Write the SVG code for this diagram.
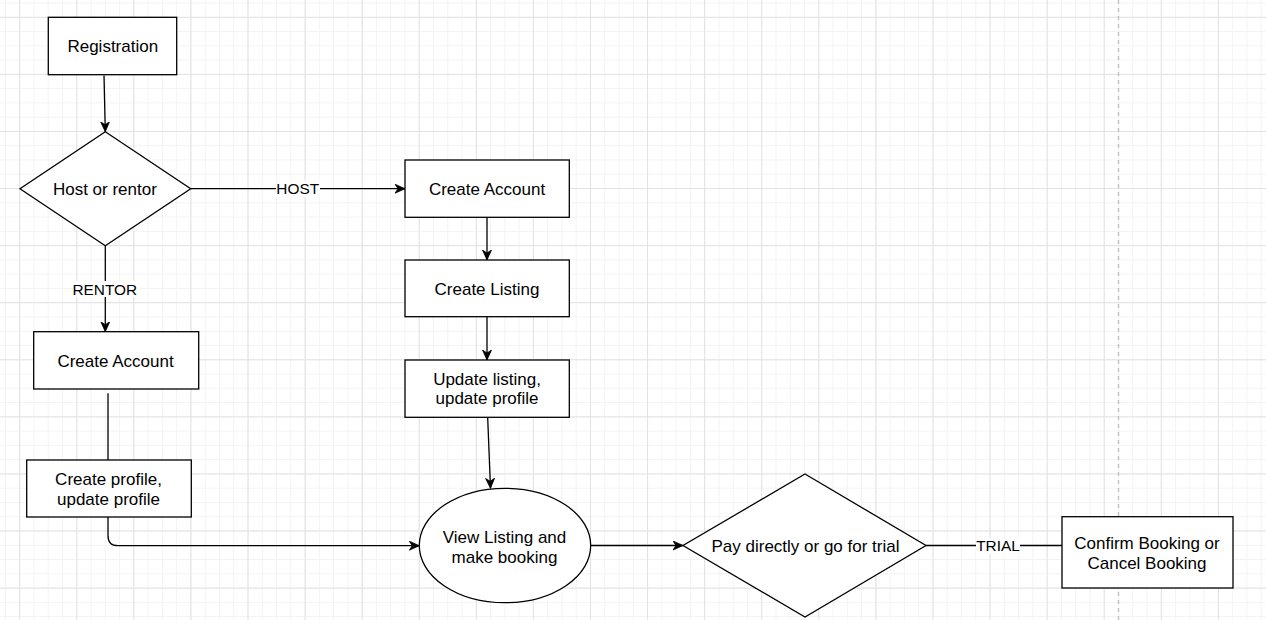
<svg xmlns="http://www.w3.org/2000/svg" width="1266" height="620" viewBox="0 0 1266 620">
<style>
.node{fill:#ffffff;stroke:#000000;stroke-width:1.3}
.txt{font-family:"Liberation Sans",Arial,sans-serif;font-size:17px;fill:#000000;text-anchor:middle}
.lbl{font-family:"Liberation Sans",Arial,sans-serif;font-size:15.4px;fill:#000000;text-anchor:middle}
.edge{fill:none;stroke:#000000;stroke-width:1.3}
.lblbg{fill:#ffffff;stroke:none}
</style>
<defs>
<pattern id="gMinor" patternUnits="userSpaceOnUse" x="4.93" y="2.53" width="14.27" height="14.27">
<path d="M0.5 0 V14.27 M0 0.5 H14.27" stroke="#f3f3f3" stroke-width="1" fill="none"/>
</pattern>
<pattern id="gMajor" patternUnits="userSpaceOnUse" x="19.2" y="16.8" width="57.08" height="57.08">
<path d="M0.5 0 V57.08 M0 0.5 H57.08" stroke="#e2e2e2" stroke-width="1" fill="none"/>
</pattern>
<marker id="arrow" markerUnits="userSpaceOnUse" markerWidth="11" markerHeight="10" refX="10" refY="4.5" orient="auto">
<path d="M0,0 L10,4.5 L0,9 L3,4.5 Z" fill="#000000" stroke="#000000" stroke-width="0.8"/>
</marker>
</defs>
<rect x="0" y="0" width="1266" height="620" fill="#ffffff"/>
<rect x="0" y="0" width="1266" height="620" fill="url(#gMinor)"/>
<rect x="0" y="0" width="1266" height="620" fill="url(#gMajor)"/>
<line x1="1118.5" y1="0" x2="1118.5" y2="620" stroke="#c4c4c4" stroke-width="1.5" stroke-dasharray="4 4"/>

<g id="connectors">
<line class="edge" x1="104" y1="75.5" x2="105.3" y2="131.7" marker-end="url(#arrow)"/>
<line class="edge" x1="190.7" y1="188.7" x2="405" y2="188.7" marker-end="url(#arrow)"/>
<line class="edge" x1="105.3" y1="245.7" x2="105.3" y2="331.7" marker-end="url(#arrow)"/>
<line class="edge" x1="487" y1="217.3" x2="487" y2="260" marker-end="url(#arrow)"/>
<line class="edge" x1="487" y1="316.7" x2="487" y2="360" marker-end="url(#arrow)"/>
<line class="edge" x1="487.7" y1="418" x2="490.5" y2="488.3" marker-end="url(#arrow)"/>
<line class="edge" x1="108" y1="393.3" x2="108" y2="460"/>
<path class="edge" d="M108 517 V535.7 Q108 545.7 118 545.7 H419.3" marker-end="url(#arrow)"/>
<line class="edge" x1="590.7" y1="545.5" x2="683" y2="545.5" marker-end="url(#arrow)"/>
<line class="edge" x1="926" y1="545.5" x2="1062" y2="545.5"/>
<rect class="lblbg" x="276" y="181" width="44" height="16"/>
<text class="lbl" x="297.7" y="194.2">HOST</text>
<rect class="lblbg" x="72" y="281" width="66" height="16"/>
<text class="lbl" x="104.8" y="294.6">RENTOR</text>
<rect class="lblbg" x="976" y="538" width="44" height="16"/>
<text class="lbl" x="998" y="551.1">TRIAL</text>
</g>

<g id="registration">
<rect class="node" x="48.3" y="17.3" width="128.4" height="57.4"/>
<text class="txt" x="112.8" y="52">Registration</text>
</g>
<g id="host-or-rentor">
<polygon class="node" points="105.3,131.7 190.7,188.7 105.3,245.7 20,188.7"/>
<text class="txt" x="104.9" y="194.7">Host or rentor</text>
</g>
<g id="host-create-account">
<rect class="node" x="405" y="160" width="164.3" height="57.3"/>
<text class="txt" x="487" y="195">Create Account</text>
</g>
<g id="create-listing">
<rect class="node" x="405" y="260" width="164.3" height="56.7"/>
<text class="txt" x="487" y="294.5">Create Listing</text>
</g>
<g id="update-listing">
<rect class="node" x="405" y="360" width="164.3" height="57.3"/>
<text class="txt" x="487" y="385.3">Update listing,</text>
<text class="txt" x="487" y="404.3">update profile</text>
</g>
<g id="rentor-create-account">
<rect class="node" x="33.7" y="331.7" width="165" height="57.3"/>
<text class="txt" x="115.5" y="367">Create Account</text>
</g>
<g id="create-profile">
<rect class="node" x="26.7" y="460" width="164.6" height="57"/>
<text class="txt" x="108.5" y="485.3">Create profile,</text>
<text class="txt" x="108.5" y="505">update profile</text>
</g>
<g id="view-listing">
<ellipse class="node" cx="505" cy="545.5" rx="85.7" ry="57.2"/>
<text class="txt" x="504.5" y="542.7">View Listing and</text>
<text class="txt" x="504.5" y="562.7">make booking</text>
</g>
<g id="pay-or-trial">
<polygon class="node" points="805,474 926,545.5 805,617 683,545.5"/>
<text class="txt" x="805.5" y="551.5">Pay directly or go for trial</text>
</g>
<g id="confirm-booking">
<rect class="node" x="1062" y="516.7" width="171" height="71.3"/>
<text class="txt" x="1147" y="549.3">Confirm Booking or</text>
<text class="txt" x="1147" y="568.7">Cancel Booking</text>
</g>
</svg>
